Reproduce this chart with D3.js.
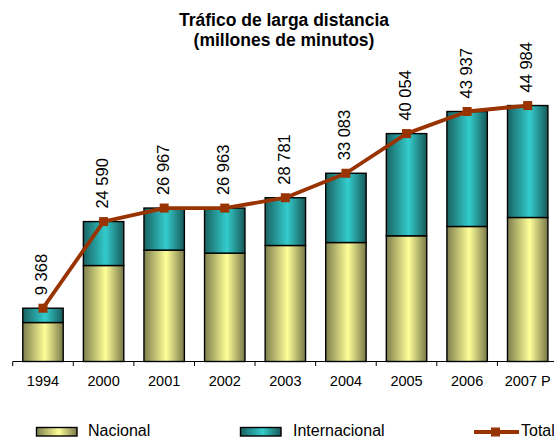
<!DOCTYPE html>
<html>
<head>
<meta charset="utf-8">
<script src="https://cdn.jsdelivr.net/npm/d3@7"></script>
<style>
  html, body { margin: 0; padding: 0; background: #fff; }
  svg { display: block; font-family: "Liberation Sans", Arial, sans-serif; }
</style>
</head>
<body>
<svg id="chart" width="554" height="442"></svg>
<script>
// Long-distance traffic, millions of minutes
const years = ["1994", "2000", "2001", "2002", "2003", "2004", "2005", "2006", "2007 P"];
const totals = [9368, 24590, 26967, 26963, 28781, 33083, 40054, 43937, 44984];
const nacional = [6850, 16870, 19580, 19050, 20390, 20910, 22090, 23730, 25310];
const internacional = totals.map((t, i) => t - nacional[i]);
const titleLines = ["Tráfico de larga distancia", "(millones de minutos)"];
const legendLabels = ["Nacional", "Internacional", "Total"];

const svg = d3.select("#chart");
const baseY = 361.5;

const x = d3.scaleBand().domain(years).range([12.7, 558]).paddingInner(0).paddingOuter(0);
const step = x.step();
const barW = step * 0.667;
const y = d3.scaleLinear().domain([0, 50000]).range([baseY, 77]);

// gradients
const defs = svg.append("defs");
function grad(id, edge, center, edge2) {
  const g = defs.append("linearGradient").attr("id", id)
    .attr("x1", "0%").attr("x2", "100%").attr("y1", "0%").attr("y2", "0%");
  g.append("stop").attr("offset", "0%").attr("stop-color", edge);
  g.append("stop").attr("offset", "55%").attr("stop-color", center);
  g.append("stop").attr("offset", "100%").attr("stop-color", edge2);
}
grad("gNac", "#7e7e4c", "#ffff99", "#78784a");
grad("gInt", "#1a6262", "#33cccc", "#185858");

// title
svg.append("g").selectAll("text").data(titleLines).join("text")
  .attr("x", 284).attr("y", (d, i) => 25.5 + i * 20)
  .attr("text-anchor", "middle")
  .attr("font-size", 17.5).attr("font-weight", "bold")
  .text(d => d);

// stacked bars
const rows = years.map((yr, i) => ({ yr, nac: nacional[i], intl: internacional[i], tot: totals[i] }));
const bars = svg.append("g");
bars.selectAll("rect.nac").data(rows).join("rect").attr("class", "nac")
  .attr("x", d => x(d.yr) + (step - barW) / 2)
  .attr("width", barW)
  .attr("y", d => y(d.nac))
  .attr("height", d => y(0) - y(d.nac))
  .attr("fill", "url(#gNac)").attr("stroke", "#000").attr("stroke-width", 1.4);
bars.selectAll("rect.intl").data(rows).join("rect").attr("class", "intl")
  .attr("x", d => x(d.yr) + (step - barW) / 2)
  .attr("width", barW)
  .attr("y", d => y(d.nac + d.intl))
  .attr("height", d => y(d.nac) - y(d.nac + d.intl))
  .attr("fill", "url(#gInt)").attr("stroke", "#000").attr("stroke-width", 1.4);

// category axis: baseline, boundary ticks, labels
const axis = svg.append("g");
axis.append("line").attr("x1", x(years[0])).attr("x2", 554)
  .attr("y1", baseY).attr("y2", baseY).attr("stroke", "#000").attr("stroke-width", 1);
axis.selectAll("line.tick").data(years).join("line").attr("class", "tick")
  .attr("x1", d => x(d)).attr("x2", d => x(d))
  .attr("y1", baseY).attr("y2", baseY + 4.5).attr("stroke", "#000").attr("stroke-width", 1);
const labelAxis = svg.append("g").attr("transform", `translate(0,${baseY + 14})`)
  .call(d3.axisBottom(x).tickSize(0).tickPadding(0));
labelAxis.select(".domain").remove();
labelAxis.selectAll("text").attr("font-size", 14.5).attr("fill", "#000")
  .attr("font-family", "'Liberation Sans', Arial, sans-serif");

// total line
const cx = d => x(d.yr) + step / 2;
const line = d3.line().x(cx).y(d => y(d.tot));
svg.append("path").datum(rows).attr("d", line)
  .attr("fill", "none").attr("stroke", "#993300").attr("stroke-width", 3.8)
  .attr("stroke-linejoin", "round");
svg.append("g").selectAll("rect").data(rows).join("rect")
  .attr("x", d => cx(d) - 4.5).attr("y", d => y(d.tot) - 4.5)
  .attr("width", 9).attr("height", 9).attr("fill", "#993300");

// value labels (rotated)
const fmt = v => d3.format(",")(v).replace(/,/g, " ");
svg.append("g").selectAll("text").data(rows).join("text")
  .attr("transform", d => `translate(${cx(d) + 4.5},${y(d.tot) - 13}) rotate(-90)`)
  .attr("font-size", 16.5)
  .text(d => fmt(d.tot));

// legend
const leg = svg.append("g");
leg.append("rect").attr("x", 36.5).attr("y", 427.5).attr("width", 40.5).attr("height", 8.5)
  .attr("fill", "url(#gNac)").attr("stroke", "#000").attr("stroke-width", 1.4);
leg.append("text").attr("x", 88).attr("y", 436).attr("font-size", 16).text(legendLabels[0]);
leg.append("rect").attr("x", 240.5).attr("y", 427.5).attr("width", 40.5).attr("height", 8.5)
  .attr("fill", "url(#gInt)").attr("stroke", "#000").attr("stroke-width", 1.4);
leg.append("text").attr("x", 293).attr("y", 436).attr("font-size", 16).text(legendLabels[1]);
leg.append("line").attr("x1", 474).attr("x2", 519).attr("y1", 432).attr("y2", 432)
  .attr("stroke", "#993300").attr("stroke-width", 3.8);
leg.append("rect").attr("x", 491).attr("y", 427.5).attr("width", 9).attr("height", 9).attr("fill", "#993300");
leg.append("text").attr("x", 521).attr("y", 436).attr("font-size", 16).text(legendLabels[2]);
</script>
</body>
</html>
